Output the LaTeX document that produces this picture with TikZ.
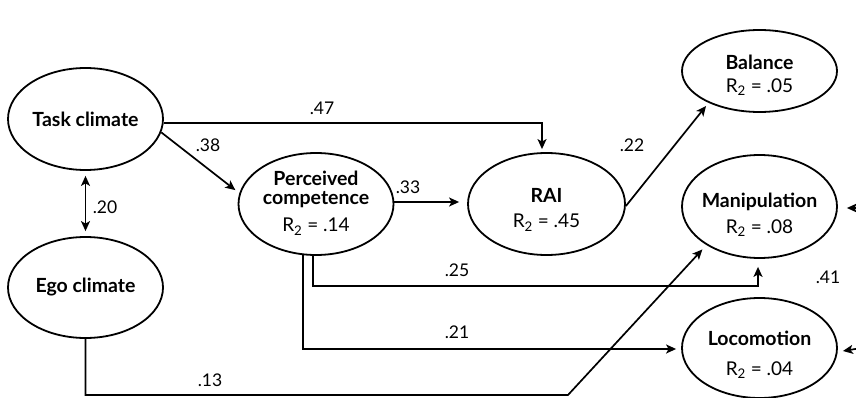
\documentclass[tikz,border=0pt]{standalone}
\usepackage{fontspec}
\setmainfont{Lato}
\usetikzlibrary{shapes.geometric,arrows.meta}
\tikzset{
  oval/.style={draw, line width=1.8pt, ellipse, inner sep=0pt},
  bt/.style={font=\fontsize{19.5}{23}\selectfont\bfseries, align=center, inner sep=0pt},
  rt/.style={font=\fontsize{19}{23}\selectfont, inner sep=0pt},
  lbl/.style={font=\fontsize{17.5}{21}\selectfont, inner sep=0pt},
  arr/.style={line width=1.7pt, -{Stealth[length=10pt,width=9pt,inset=2.5pt]}},
  darr/.style={line width=1.7pt, {Stealth[length=10pt,width=9pt,inset=2.5pt]}-{Stealth[length=10pt,width=9pt,inset=2.5pt]}},
}
\begin{document}
\begin{tikzpicture}[x=1pt,y=-1pt]
\useasboundingbox (0,0) rectangle (856,398);
\clip (0,0) rectangle (856,398);
% ellipses
\node[oval, minimum width=155pt, minimum height=102pt] (task) at (85.5,119) {};
\node[oval, minimum width=155pt, minimum height=101pt] (ego) at (85.5,287.5) {};
\node[oval, minimum width=155pt, minimum height=102pt] (perc) at (316,204) {};
\node[oval, minimum width=157pt, minimum height=102pt] (rai) at (546.5,204) {};
\node[oval, minimum width=155pt, minimum height=82pt] (bal) at (759.5,71) {};
\node[oval, minimum width=155pt, minimum height=103pt] (manip) at (759.5,206.5) {};
\node[oval, minimum width=155pt, minimum height=100pt] (loco) at (759.5,348) {};
% texts
\node[bt] (tTask) at (85.5,119) {Task climate};
\node[bt] (tEgo) at (85.5,287) {Ego climate};
\node[bt] (tPerc1) at (316,178) {Perceived};
\node[bt] (tPerc2) at (316,200) {competence};
\node[rt] (tPerc3) at (316,227) {R\textsubscript{2} = .14};
\node[bt] (tRai1) at (546.5,195) {RAI};
\node[rt] (tRai2) at (546.5,223) {R\textsubscript{2} = .45};
\node[bt] (tBal1) at (759.5,62) {Balance};
\node[rt] (tBal2) at (759.5,87) {R\textsubscript{2} = .05};
\node[bt] (tMan1) at (759.5,202) {Manipulation};
\node[rt] (tMan2) at (759.5,228) {R\textsubscript{2} = .08};
\node[bt] (tLoc1) at (759.5,338) {Locomotion};
\node[rt] (tLoc2) at (759.5,370) {R\textsubscript{2} = .04};
% coordinates
\coordinate (corner) at (568,395);
\coordinate (rm) at (880,208);
\coordinate (rl) at (880,345);
% connectors
\draw[arr] ([yshift=-4pt]task.east) -| ([xshift=-4.5pt,yshift=3pt]rai.north);
\draw[arr, shorten >=5pt] (task.-10) -- (perc.172);
\draw[darr, shorten <=5pt, shorten >=5pt] (task.south) -- (ego.north);
\draw[arr, shorten >=8pt] ([yshift=2pt]perc.east) -- ([yshift=2pt]rai.west);
\draw[arr, shorten >=4pt] ([yshift=-2pt]rai.east) -- (bal.212);
\draw[arr] ([xshift=-3pt]perc.south) -- ++(0,30) -| ([xshift=-1.5pt,yshift=-8pt]manip.south);
\draw[arr] ([xshift=-13pt,yshift=1pt]perc.south) |- ([xshift=-5pt,yshift=-1pt]loco.west);
\draw[arr, shorten >=6pt] (ego.south) |- (corner) -- (manip.216);
\draw[arr] (rm) -- ([xshift=9pt,yshift=-1.5pt]manip.east);
\draw[arr] (rl) -- ([xshift=5pt,yshift=-3pt]loco.east);
% labels
\node[lbl] (l47) at (322,108) {.47};
\node[lbl] (l38) at (208,145) {.38};
\node[lbl] (l20) at (105,207) {.20};
\node[lbl] (l33) at (408,187) {.33};
\node[lbl] (l22) at (632,145) {.22};
\node[lbl] (l25) at (457,270) {.25};
\node[lbl] (l21) at (457,332) {.21};
\node[lbl] (l13) at (210,380) {.13};
\node[lbl] (l41) at (828,277) {.41};
\end{tikzpicture}
\end{document}
